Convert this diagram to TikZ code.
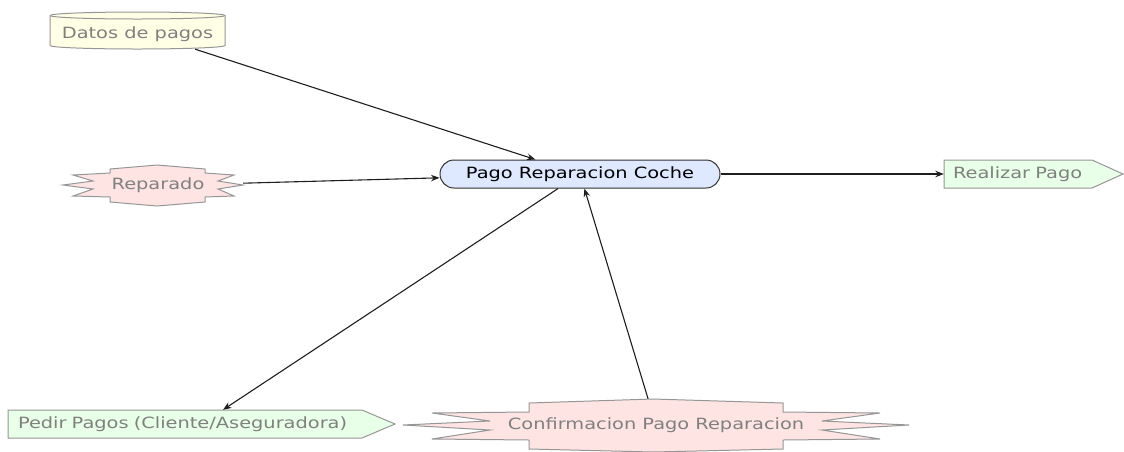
\documentclass[tikz,border=0pt]{standalone}
\usepackage{fontspec}
\setmainfont{DejaVu Sans}[FakeStretch=1.25]
\usetikzlibrary{arrows.meta}
\definecolor{txtgray}{RGB}{128,128,128}
\definecolor{shapegray}{RGB}{150,150,150}
\definecolor{yelfill}{RGB}{255,255,230}
\definecolor{pinkfill}{RGB}{255,228,228}
\definecolor{greenfill}{RGB}{232,255,232}
\definecolor{bluefill}{RGB}{222,232,255}
\definecolor{pagoborder}{RGB}{50,50,50}
\definecolor{connc}{RGB}{30,30,30}
\tikzset{
  outline/.style={draw=shapegray, line width=1pt, line join=miter},
  lbl/.style={text=txtgray, inner sep=0pt},
  conn/.style={draw=connc, line width=1.1pt, -{Stealth[length=8.5pt,width=6.5pt]}},
}
\begin{document}
\begin{tikzpicture}[x=1pt,y=-1pt,font=\fontsize{15.5}{18}\selectfont]
\useasboundingbox (0,0) rectangle (1124,451);
% data store cylinder
\path[outline, fill=yelfill] (50,15.5) -- (50,45.5) arc (180:360:87.5pt and 3.5pt)
  -- (225,15.5) arc (0:180:87.5pt and 3.5pt) -- cycle;
\draw[outline] (50,15.5) arc (180:360:87.5pt and 3.5pt);
% event Reparado
\path[outline, fill=pinkfill] (110,169) -- (157,165) -- (205,169) -- (205,173)
  -- (234,175) -- (218,181) -- (243,185) -- (218,189) -- (234,196) -- (205,197)
  -- (205,202) -- (157,206) -- (110,202) -- (110,197) -- (73,196) -- (93,189)
  -- (63,185) -- (93,181) -- (73,175) -- (110,173) -- cycle;
% event Confirmacion
\path[outline, fill=pinkfill] (529,403) -- (653,399) -- (783,403) -- (783,412)
  -- (880,413) -- (822,421) -- (909,425) -- (822,430) -- (880,439) -- (783,440)
  -- (783,449) -- (653,452) -- (529,449) -- (529,440) -- (432,439) -- (490,430)
  -- (403,425) -- (490,421) -- (432,413) -- (529,412) -- cycle;
% output arrows
\path[outline, fill=greenfill] (944,160) -- (1092,160) -- (1123,174) -- (1092,188) -- (944,188) -- cycle;
\path[outline, fill=greenfill] (8,410) -- (362,410) -- (395,424) -- (362,438) -- (8,438) -- cycle;
% nodes
\node[lbl, minimum width=175pt, minimum height=37pt, text height=20.3pt, text depth=3.7pt] (datos) at (137.5,30.5) {Datos de pagos};
\node[lbl, minimum width=170pt, minimum height=41pt] (reparado) at (158,185.5) {Reparado};
\node[draw=pagoborder, fill=bluefill, line width=1pt, rounded corners=14pt,
  minimum width=280pt, minimum height=28pt, inner sep=0pt] (pago) at (580,174) {Pago Reparacion Coche};
\node[lbl, minimum height=28pt, text width=161pt, inner xsep=9pt, align=left] (realizar) at (1033.5,174) {Realizar Pago};
\node[lbl, minimum height=28pt, text width=367pt, inner xsep=10pt, align=left] (pedir) at (201.5,424) {Pedir Pagos (Cliente/Aseguradora)};
\node[lbl, minimum width=254pt, minimum height=52pt] (confirm) at (656,425) {Confirmacion Pago Reparacion};
% connectors
\draw[conn] (datos) -- (pago);
\draw[conn] (reparado) -- (pago);
\draw[conn] (pago) -- (realizar);
\draw[conn] (pago) -- (pedir);
\draw[conn] (confirm) -- (pago);
\end{tikzpicture}
\end{document}
